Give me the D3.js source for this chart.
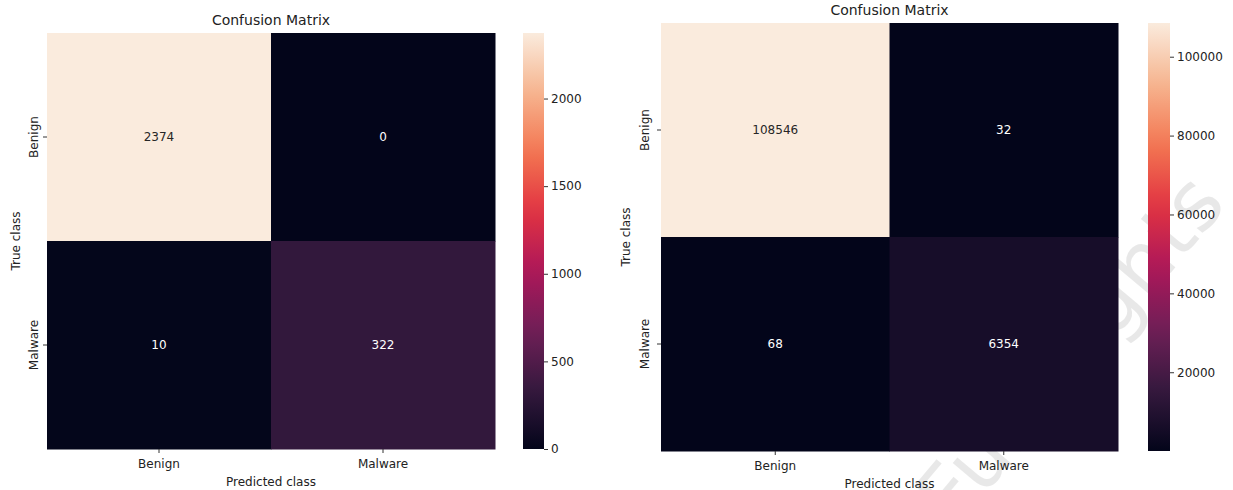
<!DOCTYPE html>
<html>
<head>
<meta charset="utf-8">
<script src="https://cdn.jsdelivr.net/npm/d3@7"></script>
<style>
  html, body { margin: 0; padding: 0; background: #fff; }
  svg { display: block; font-family: "DejaVu Sans", sans-serif; }
</style>
</head>
<body>
<svg id="chart" width="1233" height="490"></svg>
<script>
// Class labels shared by both matrices
const classes = ["Benign", "Malware"];

// Confusion matrices: rows = true class, columns = predicted class
const matrixSmall = [[2374, 0], [10, 322]];
const matrixLarge = [[108546, 32], [68, 6354]];

// Colorbar tick values
const ticksSmall = [0, 500, 1000, 1500, 2000];
const ticksLarge = [20000, 40000, 60000, 80000, 100000];

// Seaborn "rocket" colormap, sampled stops
const rocketStops = ["#03051a", "#35193e", "#701f57", "#ad1759", "#e13342", "#f37651", "#f6b48f", "#faebdd"];

const svg = d3.select("#chart");

// faint diagonal watermark behind the right panel
svg.append("text")
  .attr("transform", "translate(955,530) rotate(-50)")
  .attr("font-size", 82)
  .attr("fill", "#000")
  .attr("fill-opacity", 0.09)
  .text("Full Rights");

function drawPanel(cfg) {
  const { matrix, ticks, x0, x1, y0, y1, cbX0, cbX1, titleY, yTickOff, yTitleOff } = cfg;
  const flat = matrix.flat();
  const vmin = d3.min(flat), vmax = d3.max(flat);

  const x = d3.scaleBand().domain(classes).range([x0, x1]);
  const y = d3.scaleBand().domain(classes).range([y0, y1]);

  const t = d3.scaleLinear().domain([vmin, vmax]).range([0, 1]);
  const stopScale = d3.scaleLinear()
    .domain(rocketStops.map((_, i) => i / (rocketStops.length - 1)))
    .range(rocketStops)
    .interpolate(d3.interpolateRgb);
  const color = v => stopScale(t(v));

  const cells = [];
  matrix.forEach((row, i) => row.forEach((v, j) => cells.push({ r: classes[i], c: classes[j], v })));

  const g = svg.append("g");

  g.selectAll("rect.cell").data(cells).join("rect")
    .attr("class", "cell")
    .attr("x", d => x(d.c))
    .attr("y", d => y(d.r))
    .attr("width", x.bandwidth() + 0.5)
    .attr("height", y.bandwidth() + 0.5)
    .attr("fill", d => color(d.v));

  // annotations: dark text on light cells, white on dark cells
  g.selectAll("text.annot").data(cells).join("text")
    .attr("class", "annot")
    .attr("x", d => x(d.c) + x.bandwidth() / 2)
    .attr("y", d => y(d.r) + y.bandwidth() / 2)
    .attr("text-anchor", "middle")
    .attr("dominant-baseline", "central")
    .attr("font-size", 12)
    .attr("fill", d => {
      const c = d3.hsl(color(d.v));
      return c.l > 0.5 ? "#262626" : "#ffffff";
    })
    .text(d => d.v);

  // x axis
  const xAxis = g.append("g")
    .attr("transform", `translate(0,${y1})`)
    .call(d3.axisBottom(x).tickSize(4).tickPadding(6));
  xAxis.select(".domain").remove();
  xAxis.selectAll("text").attr("font-size", 12).attr("fill", "#222").attr("font-family", "DejaVu Sans");
  xAxis.selectAll("line").attr("stroke", "#333");

  // y axis with rotated labels
  const yAxis = g.append("g")
    .attr("transform", `translate(${x0},0)`)
    .call(d3.axisLeft(y).tickSize(4).tickPadding(4));
  yAxis.select(".domain").remove();
  yAxis.selectAll("line").attr("stroke", "#333");
  yAxis.selectAll("text")
    .attr("font-size", 12).attr("fill", "#222").attr("font-family", "DejaVu Sans")
    .attr("x", null).attr("dy", null)
    .attr("text-anchor", "middle")
    .attr("transform", `translate(${-yTickOff},0) rotate(-90)`);

  // axis titles
  g.append("text")
    .attr("x", (x0 + x1) / 2).attr("y", y1 + 37)
    .attr("text-anchor", "middle").attr("font-size", 12).attr("fill", "#222")
    .text("Predicted class");
  g.append("text")
    .attr("transform", `translate(${x0 - yTitleOff},${(y0 + y1) / 2}) rotate(-90)`)
    .attr("text-anchor", "middle").attr("font-size", 12).attr("fill", "#222")
    .text("True class");

  // title
  g.append("text")
    .attr("x", (x0 + x1) / 2).attr("y", titleY)
    .attr("text-anchor", "middle").attr("font-size", 14).attr("fill", "#222")
    .text("Confusion Matrix");

  // colorbar
  const cb = d3.scaleLinear().domain([vmin, vmax]).range([y1, y0]);
  const gradId = "grad" + cfg.id;
  const grad = svg.append("defs").append("linearGradient")
    .attr("id", gradId).attr("x1", 0).attr("x2", 0).attr("y1", 1).attr("y2", 0);
  d3.range(0, 1.0001, 0.05).forEach(p => {
    grad.append("stop").attr("offset", p).attr("stop-color", stopScale(p));
  });
  g.append("rect")
    .attr("x", cbX0).attr("y", y0)
    .attr("width", cbX1 - cbX0).attr("height", y1 - y0)
    .attr("fill", `url(#${gradId})`);
  const cAxis = g.append("g")
    .attr("transform", `translate(${cbX1},0)`)
    .call(d3.axisRight(cb).tickValues(ticks).tickSize(4).tickPadding(3).tickFormat(d3.format("d")));
  cAxis.select(".domain").remove();
  cAxis.selectAll("line").attr("stroke", "#333");
  cAxis.selectAll("text").attr("font-size", 12).attr("fill", "#222").attr("font-family", "DejaVu Sans");
}

drawPanel({ id: "a", matrix: matrixSmall, ticks: ticksSmall,
  x0: 47, x1: 495, y0: 33, y1: 449, cbX0: 523, cbX1: 544, titleY: 25,
  yTickOff: 9, yTitleOff: 27 });
drawPanel({ id: "b", matrix: matrixLarge, ticks: ticksLarge,
  x0: 661, x1: 1118, y0: 23, y1: 451, cbX0: 1148, cbX1: 1170, titleY: 15,
  yTickOff: 12, yTitleOff: 31 });
</script>
</body>
</html>
